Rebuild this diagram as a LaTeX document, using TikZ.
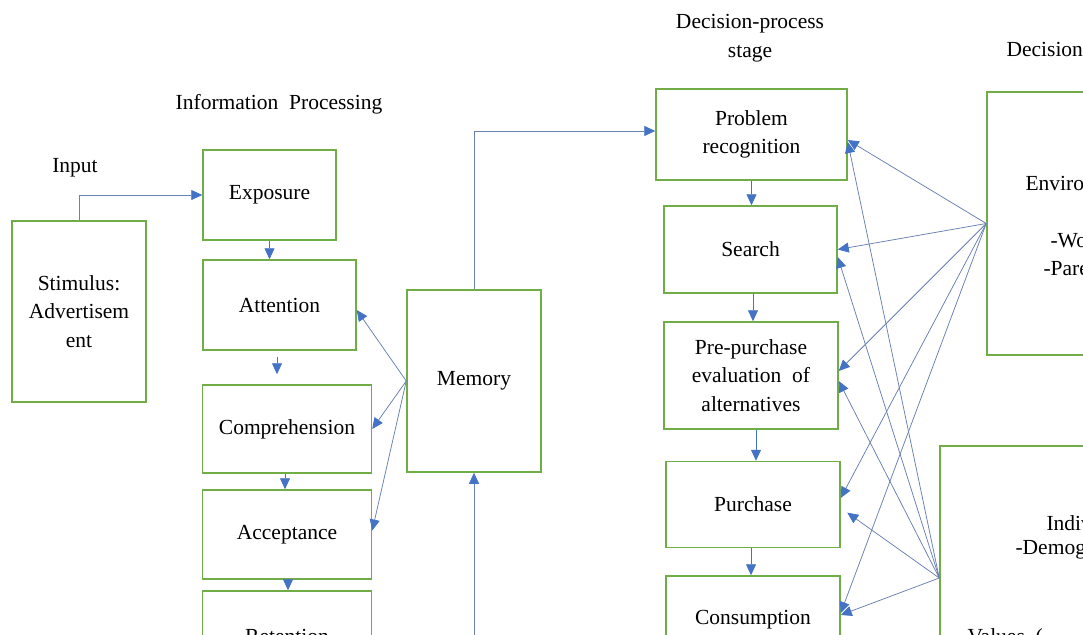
\documentclass[tikz,border=0pt]{standalone}
\usepackage{fontspec}
\setmainfont{Liberation Serif}
\usetikzlibrary{arrows.meta}
\definecolor{boxgreen}{RGB}{112,173,71}
\definecolor{linkblue}{RGB}{105,128,178}
\definecolor{tipblue}{RGB}{68,114,196}
\begin{document}
\begin{tikzpicture}[x=1pt, y=-1pt,
	every node/.style={font=\fontsize{21.5}{28.5}\selectfont},
	box/.style={draw=boxgreen, line width=1.5pt, align=center, inner sep=0pt},
	lnk/.style={draw=linkblue, line width=0.75pt, -{Triangle[length=11pt, width=10pt, color=tipblue]}},
	flow/.style={draw=tipblue, line width=0.75pt, -{Triangle[length=11pt, width=10pt, color=tipblue]}}]
	\path[use as bounding box, clip] (0,0) rectangle (1083,634);
	\fill[white] (0,0) rectangle (1083,634);
	\node (inp) at (75,168) {Input};
	\node (infolbl) at (279,104) {Information\ \ Processing};
	\node[align=center] (declbl) at (750,38) {Decision-process\\stage};
	\node[anchor=west] (detlbl) at (1003,49) {Decision};
	\node[box, minimum width=134pt, minimum height=181pt] (stim) at (79,311.5) {Stimulus:\\Advertisem\\ent};
	\node[box, minimum width=133pt, minimum height=90pt] (exp) at (269.5,195) {Exposure};
	\node[box, minimum width=153pt, minimum height=90pt] (att) at (279.5,305) {Attention};
	\node[box, minimum width=169pt, minimum height=88pt] (comp) at (287,429) {Comprehension};
	\node[box, minimum width=169pt, minimum height=89pt] (acc) at (287,534.5) {Acceptance};
	\node[box, minimum width=169pt, minimum height=90pt] (ret) at (287,636) {Retention};
	\node[box, minimum width=134pt, minimum height=182pt] (mem) at (474,381) {Memory};
	\node[box, minimum width=191pt, minimum height=91pt] (pr) at (751.5,134.5) {Problem\\recognition};
	\node[box, minimum width=173pt, minimum height=87pt] (se) at (750.5,249.5) {Search};
	\node[box, minimum width=174pt, minimum height=107pt] (pre) at (751,375.5) {Pre-purchase\\evaluation\ \ of\\alternatives};
	\node[box, minimum width=174pt, minimum height=86pt] (pur) at (753,504.5) {Purchase};
	\node[box, minimum width=174pt, minimum height=88pt] (cons) at (753,620) {Consumption};
	\node[box, minimum width=263pt, minimum height=263pt] (env) at (1118.5,223.5) {};
	\node[box, minimum width=310pt, minimum height=264pt] (ind) at (1095,578) {};
	\node[anchor=west] (envtxt) at (1022,183) {Environ};
	\node[anchor=west] (envwork) at (1047,241) {-Wo};
	\node[anchor=west] (envpar) at (1040,269) {-Pare};
	\node[anchor=west] (indtxt) at (1043,523) {Indiv};
	\node[anchor=west] (inddemo) at (1012,550) {-Demog};
	\node[anchor=west] (indval) at (964,638) {Values\ \ (};
	\coordinate (membot) at (474,650);
	\draw[lnk] (stim.north) |- (exp.west);
	\draw[flow] (exp.south) -- (exp.south |- att.north);
	\draw[flow] ([xshift=-2.5pt, yshift=-6pt]att.south) -- ([xshift=-2.5pt, yshift=10pt]att.south |- comp.north);
	\draw[flow] ([xshift=-2pt]comp.south) -- ([xshift=-2pt]comp.south |- acc.north);
	\draw[flow] ([xshift=1pt]acc.south) -- ([xshift=1pt]acc.south |- ret.north);
	\draw[lnk] (mem.west) -- ([yshift=-5pt]att.east);
	\draw[lnk] (mem.west) -- (comp.east);
	\draw[lnk] (mem.west) -- ([yshift=4pt]acc.east);
	\draw[lnk] (membot) -- (mem.south);
	\draw[lnk] (mem.north) |- ([yshift=3.5pt]pr.west);
	\draw[flow] (pr.south) -- (pr.south |- se.north);
	\draw[flow] ([xshift=2.5pt]se.south) -- ([xshift=2.5pt]se.south |- pre.north);
	\draw[flow] ([xshift=5pt]pre.south) -- ([xshift=5pt]pre.south |- pur.north);
	\draw[flow] ([xshift=-2pt]pur.south) -- ([xshift=-2pt]pur.south |- cons.north);
	\draw[lnk] (env.west) -- ([yshift=-5.5pt]pr.east);
	\draw[lnk] (env.west) -- (se.east);
	\draw[lnk] (env.west) -- ([yshift=4.5pt]pre.east);
	\draw[lnk] (env.west) -- ([yshift=6.5pt]pur.east);
	\draw[lnk] (env.west) -- ([yshift=7pt]cons.east);
	\draw[lnk] (ind.west) -- ([yshift=-7.5pt]pr.east);
	\draw[lnk] (ind.west) -- ([yshift=-7.5pt]se.east);
	\draw[lnk] (ind.west) -- ([yshift=-5.5pt]pre.east);
	\draw[lnk, shorten >=8pt] (ind.west) -- ([yshift=-3.5pt]pur.east);
	\draw[lnk] (ind.west) -- ([yshift=5pt]cons.east);
\end{tikzpicture}
\end{document}
